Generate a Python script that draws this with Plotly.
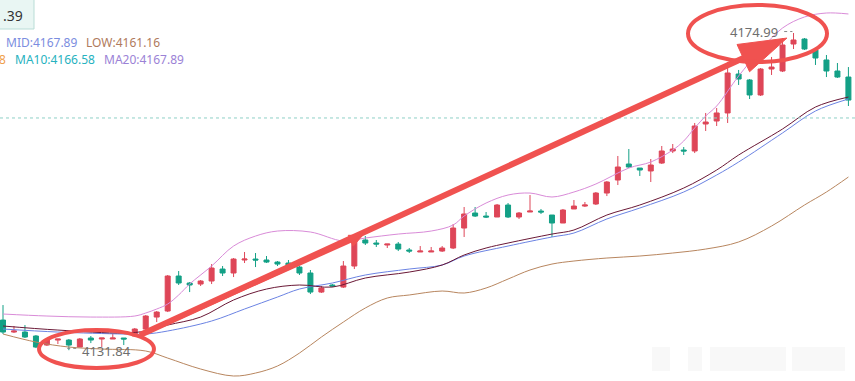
import math
import plotly.graph_objects as go

# ---------------- data ----------------
idx = list(range(78))
open_ = [4135.94, 4134.31, 4134.31, 4133.77, 4132.54, 4133.22, 4133.22, 4132.27, 4133.50, 4133.36,
         4133.36, 4133.50, 4133.77, 4134.72, 4136.35, 4137.17, 4141.93, 4140.98, 4140.84, 4141.25,
         4142.88, 4142.34, 4144.11, 4144.24, 4144.11, 4143.83, 4143.70, 4143.15, 4142.34, 4139.75,
         4140.71, 4140.43, 4143.29, 4146.83, 4146.42, 4146.15, 4146.28, 4145.47, 4145.20, 4145.20,
         4145.33, 4145.74, 4148.46, 4150.50, 4150.09, 4149.96, 4151.59, 4149.96, 4150.64, 4150.77,
         4150.23, 4149.14, 4151.05, 4151.45, 4151.73, 4153.22, 4154.99, 4157.17, 4156.62, 4156.22,
         4157.30, 4158.94, 4159.07, 4158.94, 4162.61, 4163.02, 4164.11, 4169.41, 4168.60, 4166.56,
         4170.09, 4169.82, 4173.49, 4174.17, 4172.68, 4171.32, 4169.82, 4169.00]
close = [4134.31, 4134.45, 4133.63, 4132.27, 4133.22, 4133.36, 4132.54, 4133.36, 4133.22, 4133.50,
         4133.50, 4133.36, 4134.72, 4136.49, 4137.03, 4141.93, 4140.98, 4140.71, 4141.25, 4143.02,
         4142.34, 4144.24, 4144.24, 4144.11, 4143.83, 4143.56, 4143.29, 4142.34, 4139.75, 4140.30,
         4140.57, 4143.29, 4146.83, 4146.42, 4146.28, 4146.28, 4145.60, 4145.33, 4145.33, 4145.33,
         4145.74, 4148.46, 4150.37, 4150.09, 4149.96, 4151.59, 4149.96, 4150.50, 4150.77, 4150.64,
         4149.14, 4150.91, 4151.45, 4151.59, 4153.22, 4154.72, 4156.76, 4156.76, 4156.35, 4157.03,
         4158.94, 4159.21, 4158.94, 4162.34, 4162.88, 4164.11, 4169.55, 4168.73, 4166.56, 4170.09,
         4170.36, 4173.36, 4174.04, 4172.81, 4171.59, 4169.82, 4169.00, 4165.87]
high = [4137.98, 4135.13, 4135.26, 4133.90, 4133.36, 4133.36, 4133.36, 4133.50, 4133.77, 4133.50,
        4134.04, 4133.50, 4134.86, 4136.62, 4137.17, 4142.07, 4142.61, 4141.11, 4141.39, 4143.56,
        4143.29, 4144.38, 4145.20, 4145.06, 4144.65, 4143.97, 4144.11, 4143.29, 4142.75, 4140.57,
        4140.84, 4143.97, 4147.24, 4147.37, 4146.83, 4146.28, 4146.56, 4145.74, 4146.01, 4145.88,
        4146.01, 4149.00, 4151.32, 4151.32, 4150.64, 4151.73, 4151.86, 4150.64, 4152.95, 4151.05,
        4150.23, 4151.05, 4152.27, 4152.00, 4153.36, 4154.85, 4158.26, 4159.21, 4156.62, 4157.85,
        4159.62, 4159.89, 4159.48, 4162.75, 4164.11, 4164.79, 4171.04, 4169.96, 4168.73, 4170.23,
        4171.73, 4174.31, 4174.99, 4174.31, 4172.95, 4172.00, 4170.91, 4170.36]
low = [4134.04, 4134.18, 4133.50, 4132.13, 4132.41, 4132.68, 4131.84, 4132.27, 4132.81, 4132.27,
       4133.36, 4132.54, 4133.63, 4134.58, 4135.67, 4137.03, 4140.71, 4139.75, 4140.57, 4140.84,
       4141.93, 4141.79, 4143.70, 4143.15, 4143.70, 4143.29, 4143.02, 4142.07, 4139.48, 4139.62,
       4140.43, 4140.30, 4142.88, 4146.15, 4145.88, 4145.74, 4145.33, 4145.06, 4145.20, 4145.20,
       4145.20, 4145.60, 4147.24, 4149.96, 4149.82, 4149.96, 4149.82, 4149.69, 4150.64, 4150.37,
       4147.24, 4149.14, 4151.05, 4151.32, 4151.59, 4152.81, 4154.31, 4156.62, 4155.54, 4154.72,
       4157.17, 4158.66, 4158.39, 4158.66, 4161.66, 4162.34, 4162.75, 4167.92, 4166.01, 4166.42,
       4169.28, 4169.68, 4172.81, 4172.68, 4170.64, 4169.00, 4168.87, 4165.06]

up_idx = [0, 4, 8, 12, 13, 14, 15, 16, 17, 19, 21, 23, 25, 28, 31, 33, 36, 39, 41, 42, 44, 46, 48,
          50, 52, 54, 57, 59, 61, 62, 63, 64, 65, 67, 69, 71, 73, 75, 77]
up_val = [4136.76, 4136.49, 4136.35, 4136.49, 4136.90, 4137.44, 4138.12, 4139.35, 4140.84, 4143.29,
          4146.01, 4147.37, 4148.05, 4147.92, 4146.69, 4147.10, 4147.64, 4148.05, 4148.87, 4150.09,
          4151.86, 4152.95, 4153.22, 4152.68, 4153.36, 4154.45, 4156.62, 4157.44, 4159.07, 4160.30,
          4162.07, 4163.70, 4165.06, 4169.14, 4172.68, 4175.67, 4177.17, 4177.71, 4177.58]

low_idx = [0, 3, 6, 9, 13, 15, 18, 21, 23, 25, 27, 29, 31, 33, 35, 37, 40, 42, 44, 46, 48, 50, 52,
           55, 58, 61, 64, 67, 70, 73, 75, 77]
low_val = [4134.04, 4132.95, 4132.27, 4132.00, 4131.73, 4130.77, 4129.28, 4128.33, 4128.73, 4129.69,
           4131.45, 4133.63, 4135.67, 4137.58, 4138.94, 4139.35, 4139.89, 4139.62, 4140.30, 4141.52,
           4142.75, 4143.56, 4143.97, 4144.38, 4144.65, 4145.06, 4145.60, 4146.56, 4148.73, 4151.59,
           4153.36, 4155.40]

ma_a_idx = [0, 5, 11, 13, 15, 18, 21, 24, 27, 30, 33, 37, 40, 42, 44, 46, 50, 52, 55, 58, 62, 65,
            67, 71, 74, 77]
ma_a_val = [4135.13, 4134.58, 4134.18, 4134.45, 4135.26, 4136.35, 4138.67, 4140.16, 4140.71, 4140.43,
            4141.66, 4142.47, 4143.43, 4144.79, 4145.74, 4146.42, 4147.64, 4148.19, 4150.23, 4151.59,
            4153.90, 4156.35, 4158.39, 4161.93, 4164.92, 4166.28]

ma_b_idx = [0, 5, 11, 13, 15, 19, 22, 25, 27, 30, 33, 37, 40, 42, 46, 50, 52, 55, 58, 62, 65, 67,
            71, 74, 77]
ma_b_val = [4134.72, 4134.31, 4134.04, 4134.04, 4134.45, 4135.81, 4137.44, 4139.07, 4140.16, 4140.98,
            4142.07, 4142.88, 4143.43, 4144.65, 4146.01, 4147.24, 4147.78, 4149.69, 4151.18, 4153.36,
            4155.67, 4157.44, 4161.39, 4164.38, 4166.01]

ref_price = 4163.43
low_mark = (6, 4131.84)
high_mark = (72, 4174.99)

legend_row1 = [("MID:4167.89", "#7b8de0"), ("LOW:4161.16", "#b07a5c")]
legend_row2 = [("8", "#f0a04b"), ("MA10:4166.58", "#27b2c0"), ("MA20:4167.89", "#9b82d6")]
box_text = ".39"

# ---------------- layout helpers ----------------
W, H = 855, 381
X_RANGE = [-0.273, 77.6]
Y_RANGE = [4127.65, 4179.48]

def to_px(i, p):
    x = (i - X_RANGE[0]) / (X_RANGE[1] - X_RANGE[0]) * W
    y = (Y_RANGE[1] - p) / (Y_RANGE[1] - Y_RANGE[0]) * H
    return x, y

def to_paper(x, y):
    return x / W, 1 - y / H

RED = "#de4658"
GREEN = "#13a086"
ANN = "#f05250"

fig = go.Figure()

fig.add_trace(go.Scatter(x=up_idx, y=up_val, mode="lines", line=dict(color="#d98bd8", width=1, shape="spline"), hoverinfo="skip"))
fig.add_trace(go.Scatter(x=low_idx, y=low_val, mode="lines", line=dict(color="#b8865f", width=1, shape="spline"), hoverinfo="skip"))
fig.add_trace(go.Scatter(x=ma_b_idx, y=ma_b_val, mode="lines", line=dict(color="#6b83e3", width=1, shape="spline"), hoverinfo="skip"))
fig.add_trace(go.Scatter(x=ma_a_idx, y=ma_a_val, mode="lines", line=dict(color="#6a1836", width=1, shape="spline"), hoverinfo="skip"))

fig.add_trace(go.Candlestick(
    x=idx, open=open_, high=high, low=low, close=close,
    increasing=dict(line=dict(color=RED, width=1), fillcolor=RED),
    decreasing=dict(line=dict(color=GREEN, width=1), fillcolor=GREEN),
    whiskerwidth=0,
))

shapes = []
shapes.append(dict(type="line", xref="paper", x0=0, x1=1, yref="y", y0=ref_price, y1=ref_price,
                   line=dict(color="#8fd0c6", width=1, dash="dot")))

def arrow(tail, tip, width, head_len, head_half):
    tx, ty = to_px(*tail)
    hx, hy = to_px(*tip)
    dx, dy = hx - tx, hy - ty
    d = math.hypot(dx, dy)
    ux, uy = dx / d, dy / d
    bx, by = hx - ux * (head_len - 2), hy - uy * (head_len - 2)
    a = to_paper(tx, ty)
    b = to_paper(bx, by)
    shapes.append(dict(type="line", xref="paper", yref="paper", x0=a[0], y0=a[1], x1=b[0], y1=b[1],
                       line=dict(color=ANN, width=width)))
    nx, ny = -uy, ux
    cx, cy = hx - ux * head_len, hy - uy * head_len
    p1 = to_paper(cx + nx * head_half, cy + ny * head_half)
    p2 = to_paper(cx - nx * head_half, cy - ny * head_half)
    p0 = to_paper(hx, hy)
    path = f"M{p0[0]},{p0[1]} L{p1[0]},{p1[1]} L{p2[0]},{p2[1]} Z"
    shapes.append(dict(type="path", xref="paper", yref="paper", path=path,
                       fillcolor=ANN, line=dict(color=ANN, width=1)))

tail = (12.48, 4133.90)
arrow(tail, (32.75, 4147.45), 4, 13, 6)
arrow(tail, (71.4, 4174.3), 6, 48, 15)

shapes.append(dict(type="circle", xref="x", yref="y", x0=3.28, x1=13.75, y0=4129.41, y1=4134.58,
                   line=dict(color=ANN, width=4)))
shapes.append(dict(type="circle", xref="x", yref="y", x0=62.39, x1=75.05, y0=4171.04, y1=4178.80,
                   line=dict(color=ANN, width=4)))

shapes.append(dict(type="line", xref="x", yref="y", x0=low_mark[0] - 0.15, x1=low_mark[0] + 0.9,
                   y0=low_mark[1] + 0.25, y1=low_mark[1] + 0.25, line=dict(color="#888", width=1, dash="dot")))
shapes.append(dict(type="line", xref="x", yref="y", x0=high_mark[0] - 0.85, x1=high_mark[0] - 0.1,
                   y0=high_mark[1] + 0.2, y1=high_mark[1] + 0.2, line=dict(color="#888", width=1, dash="dot")))

bx1 = to_paper(34, 29)
shapes.append(dict(type="rect", xref="paper", yref="paper", x0=-0.01, x1=bx1[0], y0=bx1[1], y1=1.01,
                   fillcolor="#e9f6f3", line=dict(color="#b9ddd6", width=1)))
for (xa, xb) in [(652, 670), (688, 702), (710, 786), (792, 845)]:
    p_a = to_paper(xa, 347)
    p_b = to_paper(xb, 371)
    shapes.append(dict(type="rect", xref="paper", yref="paper", x0=p_a[0], x1=p_b[0], y0=p_b[1], y1=p_a[1],
                       fillcolor="rgba(150,150,150,0.07)", line=dict(width=0), layer="below"))

annotations = []
FONT = "Noto Sans"
annotations.append(dict(x=low_mark[0] + 1.0, y=low_mark[1] - 0.1, xref="x", yref="y", text="4131.84",
                        showarrow=False, xanchor="left", yanchor="middle",
                        font=dict(family=FONT, size=13, color="#6e6e6e")))
annotations.append(dict(x=high_mark[0] - 1.2, y=high_mark[1] + 0.15, xref="x", yref="y", text="4174.99",
                        showarrow=False, xanchor="right", yanchor="middle",
                        font=dict(family=FONT, size=13, color="#6e6e6e")))

annotations.append(dict(x=to_paper(1, 0)[0], y=to_paper(0, 15)[1], xref="paper", yref="paper", text=box_text,
                        showarrow=False, xanchor="left", yanchor="middle",
                        font=dict(family=FONT, size=14, color="#333")))

row1_x = [4, 84]
for (t, c), xp in zip(legend_row1, row1_x):
    annotations.append(dict(x=xp / W, y=to_paper(0, 42)[1], xref="paper", yref="paper", text=t,
                            showarrow=False, xanchor="left", yanchor="middle",
                            font=dict(family=FONT, size=12, color=c)))
row2_x = [-3, 13, 102]
for (t, c), xp in zip(legend_row2, row2_x):
    annotations.append(dict(x=xp / W, y=to_paper(0, 60)[1], xref="paper", yref="paper", text=t,
                            showarrow=False, xanchor="left", yanchor="middle",
                            font=dict(family=FONT, size=12, color=c)))

fig.update_layout(
    width=W, height=H,
    margin=dict(l=0, r=0, t=0, b=0),
    paper_bgcolor="white", plot_bgcolor="white",
    showlegend=False,
    shapes=shapes, annotations=annotations,
    boxgap=0.35,
    xaxis=dict(range=X_RANGE, visible=False, rangeslider=dict(visible=False), fixedrange=True),
    yaxis=dict(range=Y_RANGE, visible=False, fixedrange=True),
)

fig.write_html("out.html", config={"displayModeBar": False})
